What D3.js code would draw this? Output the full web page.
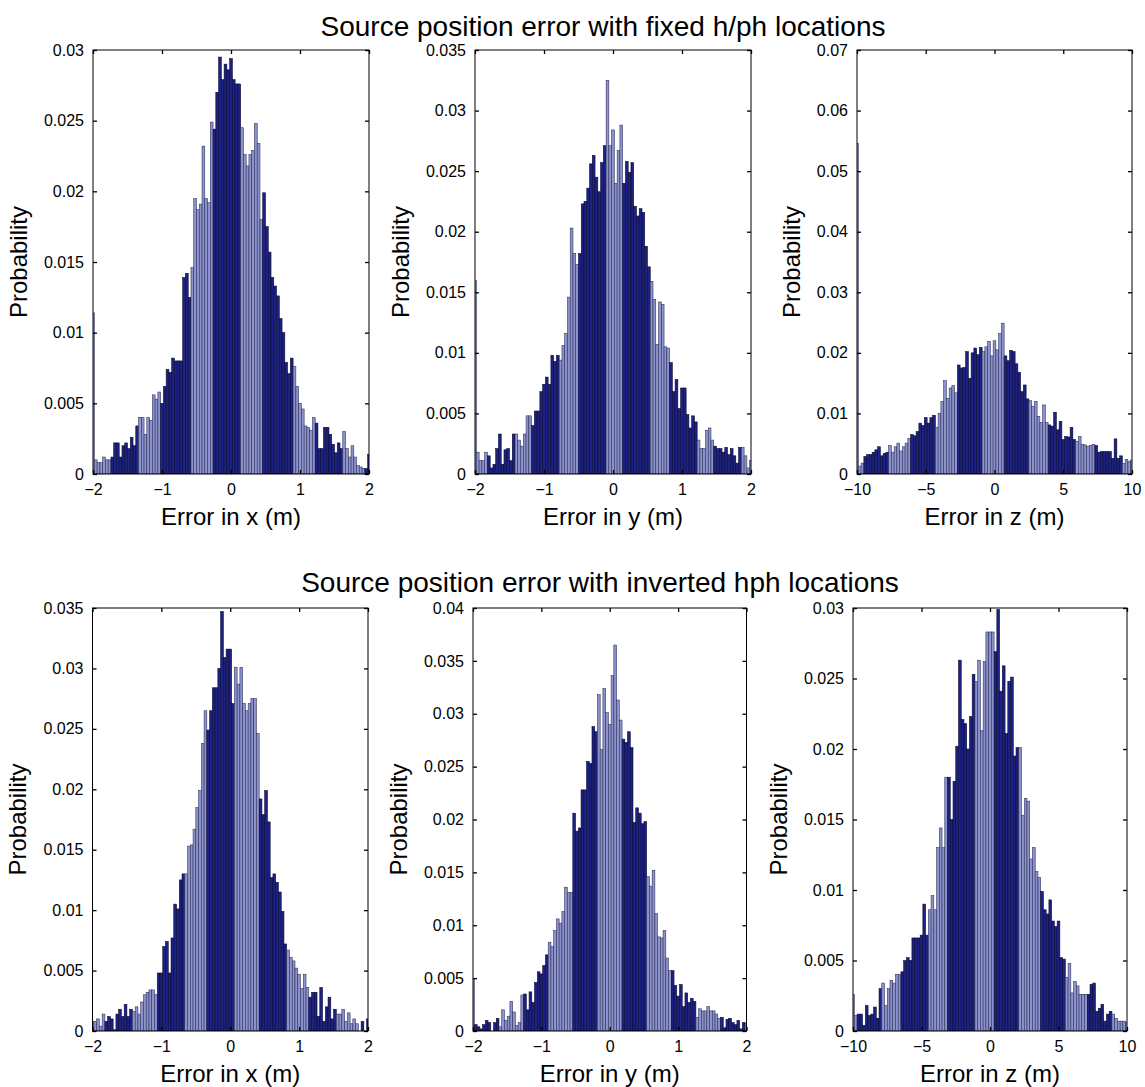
<!DOCTYPE html>
<html><head><meta charset="utf-8">
<script src="https://cdn.jsdelivr.net/npm/d3@7"></script>
<style>
html,body{margin:0;padding:0;background:#fff;}
text{font-family:"Liberation Sans",Arial,Helvetica,sans-serif;fill:#000;}
</style></head>
<body><svg id="chart" width="1145" height="1087"></svg>
<script>
// ---------- data (probability per bin, 101 bins centred on the x ticks grid) ----------
const titles = ["Source position error with fixed h/ph locations",
                "Source position error with inverted hph locations"];
const xLabels = ["Error in x (m)", "Error in y (m)", "Error in z (m)"];
const yLabel = "Probability";
const xTicksXY = [-2, -1, 0, 1, 2];
const xTicksZ = [-10, -5, 0, 5, 10];
const yTicksTL = [0, 0.005, 0.01, 0.015, 0.02, 0.025, 0.03];
const yTicksTM = [0, 0.005, 0.01, 0.015, 0.02, 0.025, 0.03, 0.035];
const yTicksTR = [0, 0.01, 0.02, 0.03, 0.04, 0.05, 0.06, 0.07];
const yTicksBL = [0, 0.005, 0.01, 0.015, 0.02, 0.025, 0.03, 0.035];
const yTicksBM = [0, 0.005, 0.01, 0.015, 0.02, 0.025, 0.03, 0.035, 0.04];
const yTicksBR = [0, 0.005, 0.01, 0.015, 0.02, 0.025, 0.03];

const xErrFixed = [0.0114,
 0.0010,0.0008,0.0008,0.0012,0.0010,0.0010,0.0012,0.0022,0.0022,0.0012,
 0.0020,0.0022,0.0018,0.0026,0.0020,0.0034,0.0040,0.0040,0.0028,0.0040,
 0.0038,0.0056,0.0053,0.0058,0.0050,0.0062,0.0074,0.0072,0.0082,0.0080,
 0.0080,0.0080,0.0139,0.0142,0.0125,0.0146,0.0195,0.0187,0.0191,0.0232,
 0.0195,0.0192,0.0249,0.0244,0.0270,0.0295,0.0279,0.0290,0.0286,0.0294,
 0.0279,0.0276,0.0276,0.0245,0.0226,0.0218,0.0226,0.0229,0.0248,0.0234,
 0.0180,0.0199,0.0175,0.0157,0.0139,0.0133,0.0126,0.0110,0.0100,0.0079,
 0.0071,0.0082,0.0076,0.0062,0.0050,0.0046,0.0034,0.0033,0.0031,0.0040,
 0.0036,0.0018,0.0018,0.0033,0.0033,0.0028,0.0021,0.0015,0.0022,0.0018,
 0.0030,0.0018,0.0012,0.0020,0.0012,0.0006,0.0005,0.0004,0.0004,0.0014];

const yErrFixed = [0.0160,
 0.0018,0.0011,0.0011,0.0018,0.0015,0.0005,0.0008,0.0021,0.0033,0.0008,
 0.0020,0.0021,0.0011,0.0033,0.0033,0.0028,0.0023,0.0033,0.0048,0.0048,
 0.0040,0.0052,0.0052,0.0068,0.0074,0.0080,0.0074,0.0098,0.0093,0.0098,
 0.0094,0.0106,0.0116,0.0146,0.0203,0.0182,0.0173,0.0182,0.0223,0.0225,
 0.0236,0.0256,0.0263,0.0245,0.0233,0.0257,0.0271,0.0325,0.0271,0.0284,
 0.0240,0.0267,0.0288,0.0240,0.0258,0.0249,0.0257,0.0221,0.0213,0.0219,
 0.0216,0.0188,0.0171,0.0159,0.0144,0.0107,0.0142,0.0140,0.0105,0.0104,
 0.0092,0.0068,0.0078,0.0054,0.0071,0.0071,0.0049,0.0038,0.0048,0.0043,
 0.0028,0.0021,0.0021,0.0036,0.0038,0.0028,0.0023,0.0021,0.0021,0.0018,
 0.0022,0.0016,0.0021,0.0015,0.0009,0.0022,0.0022,0.0015,0.0005,0.0011];

const zErrFixed = [0.0546,
 0.0013,0.0018,0.0029,0.0032,0.0032,0.0036,0.0040,0.0045,0.0030,0.0034,
 0.0036,0.0047,0.0036,0.0045,0.0051,0.0038,0.0045,0.0051,0.0059,0.0065,
 0.0063,0.0070,0.0084,0.0080,0.0093,0.0084,0.0093,0.0097,0.0077,0.0100,
 0.0120,0.0154,0.0125,0.0142,0.0146,0.0134,0.0180,0.0175,0.0176,0.0202,
 0.0158,0.0200,0.0208,0.0197,0.0209,0.0202,0.0210,0.0219,0.0195,0.0220,
 0.0205,0.0232,0.0249,0.0195,0.0187,0.0204,0.0202,0.0182,0.0168,0.0136,
 0.0147,0.0124,0.0121,0.0112,0.0120,0.0095,0.0085,0.0114,0.0085,0.0081,
 0.0079,0.0102,0.0073,0.0087,0.0057,0.0062,0.0061,0.0077,0.0057,0.0054,
 0.0062,0.0049,0.0048,0.0046,0.0047,0.0049,0.0047,0.0036,0.0037,0.0037,
 0.0037,0.0037,0.0026,0.0058,0.0026,0.0030,0.0017,0.0024,0.0021,0.0023];

const xErrInv = [0.0008,
 0.0008,0.0010,0.0004,0.0014,0.0008,0.0012,0.0010,0.0001,0.0014,0.0018,
 0.0012,0.0022,0.0012,0.0018,0.0016,0.0020,0.0014,0.0024,0.0030,0.0032,
 0.0034,0.0034,0.0030,0.0048,0.0048,0.0070,0.0074,0.0048,0.0077,0.0105,
 0.0101,0.0125,0.0130,0.0130,0.0153,0.0154,0.0167,0.0185,0.0199,0.0238,
 0.0265,0.0249,0.0265,0.0284,0.0284,0.0300,0.0347,0.0309,0.0316,0.0316,
 0.0271,0.0301,0.0287,0.0301,0.0271,0.0265,0.0271,0.0275,0.0275,0.0246,
 0.0192,0.0179,0.0199,0.0173,0.0127,0.0130,0.0123,0.0115,0.0099,0.0072,
 0.0067,0.0061,0.0058,0.0052,0.0047,0.0035,0.0047,0.0036,0.0028,0.0032,
 0.0032,0.0012,0.0036,0.0008,0.0020,0.0028,0.0010,0.0018,0.0014,0.0014,
 0.0018,0.0008,0.0015,0.0006,0.0010,0.0006,0.0000,0.0008,0.0000,0.0010];

const yErrInv = [0.0050,
 0.0006,0.0004,0.0002,0.0006,0.0010,0.0008,0.0000,0.0008,0.0012,0.0004,
 0.0020,0.0010,0.0014,0.0028,0.0018,0.0005,0.0008,0.0034,0.0035,0.0020,
 0.0037,0.0027,0.0046,0.0056,0.0054,0.0062,0.0072,0.0084,0.0080,0.0095,
 0.0106,0.0102,0.0113,0.0136,0.0131,0.0131,0.0206,0.0189,0.0192,0.0228,
 0.0228,0.0255,0.0253,0.0288,0.0283,0.0318,0.0266,0.0324,0.0301,0.0290,
 0.0336,0.0365,0.0313,0.0294,0.0276,0.0273,0.0283,0.0268,0.0197,0.0211,
 0.0206,0.0196,0.0198,0.0146,0.0137,0.0152,0.0111,0.0089,0.0088,0.0095,
 0.0069,0.0057,0.0057,0.0043,0.0033,0.0044,0.0023,0.0036,0.0027,0.0031,
 0.0028,0.0013,0.0021,0.0019,0.0019,0.0023,0.0019,0.0019,0.0016,0.0012,
 0.0013,0.0003,0.0011,0.0012,0.0008,0.0006,0.0010,0.0002,0.0008,0.0007];

const zErrInv = [0.0026,
 0.0011,0.0012,0.0012,0.0004,0.0018,0.0011,0.0012,0.0017,0.0009,0.0030,
 0.0034,0.0018,0.0030,0.0036,0.0034,0.0040,0.0040,0.0042,0.0050,0.0052,
 0.0050,0.0066,0.0066,0.0066,0.0068,0.0090,0.0068,0.0086,0.0096,0.0086,
 0.0130,0.0144,0.0130,0.0180,0.0180,0.0150,0.0177,0.0202,0.0263,0.0221,
 0.0218,0.0200,0.0223,0.0253,0.0248,0.0263,0.0213,0.0262,0.0283,0.0283,
 0.0283,0.0269,0.0299,0.0241,0.0259,0.0211,0.0248,0.0251,0.0195,0.0201,
 0.0201,0.0153,0.0165,0.0163,0.0122,0.0130,0.0113,0.0109,0.0099,0.0086,
 0.0083,0.0093,0.0078,0.0074,0.0078,0.0052,0.0051,0.0038,0.0048,0.0027,
 0.0035,0.0032,0.0026,0.0026,0.0026,0.0026,0.0033,0.0034,0.0014,0.0016,
 0.0019,0.0007,0.0012,0.0014,0.0012,0.0009,0.0007,0.0007,0.0007,0.0006];

// ---------- layout ----------
const panels = [
  {vals:xErrFixed, xd:[-2,2],   xt:xTicksXY, yd:[0,0.03],  yt:yTicksTL, lab:0, L:93,  R:369,  T:50,  B:474,  band:[18.5,17,8]},
  {vals:yErrFixed, xd:[-2,2],   xt:xTicksXY, yd:[0,0.035], yt:yTicksTM, lab:1, L:475, R:751,  T:50,  B:474,  band:[16.5,14.5,6.5]},
  {vals:zErrFixed, xd:[-10,10], xt:xTicksZ,  yd:[0,0.07],  yt:yTicksTR, lab:2, L:857, R:1132, T:50,  B:474,  band:[16.8,12,7.5]},
  {vals:xErrInv,   xd:[-2,2],   xt:xTicksXY, yd:[0,0.035], yt:yTicksBL, lab:0, L:92.5,R:368,  T:608, B:1031, band:[18.5,15,8.5]},
  {vals:yErrInv,   xd:[-2,2],   xt:xTicksXY, yd:[0,0.04],  yt:yTicksBM, lab:1, L:473, R:746.5,T:608, B:1031, band:[18,10,8.5]},
  {vals:zErrInv,   xd:[-10,10], xt:xTicksZ,  yd:[0,0.03],  yt:yTicksBR, lab:2, L:853, R:1127, T:608, B:1031, band:[16.8,10.5,7.5]}
];

const svg = d3.select("#chart");
const fmt = d3.format("~g");
const DARK = "#1d2282", LIGHT = "#8b92cc";

panels.forEach((p, k) => {
  const x = d3.scaleLinear().domain(p.xd).range([p.L, p.R]);
  const y = d3.scaleLinear().domain(p.yd).range([p.B, p.T]);
  const n = p.vals.length;
  const step = (p.xd[1] - p.xd[0]) / (n - 1);
  const bw = x(p.xd[0] + step) - x(p.xd[0]);
  const g = svg.append("g");
  const cid = "clip" + k;
  svg.append("clipPath").attr("id", cid).append("rect")
     .attr("x", p.L).attr("y", p.T).attr("width", p.R - p.L).attr("height", p.B - p.T);
  const [per, off, wid] = p.band;
  const isLight = i => { const ph = ((i - off) % per + per) % per; return ph < wid; };
  g.append("g").attr("clip-path", `url(#${cid})`)
   .selectAll("rect").data(p.vals).join("rect")
   .attr("x", (d, i) => x(p.xd[0] + i * step) - bw / 2)
   .attr("width", bw)
   .attr("y", d => y(d))
   .attr("height", d => y(0) - y(d))
   .attr("fill", (d, i) => isLight(i) ? LIGHT : DARK)
   .attr("stroke", (d, i) => isLight(i) ? "#2a2d55" : "#05062a")
   .attr("stroke-width", 0.55);

  // box
  g.append("rect").attr("x", p.L).attr("y", p.T).attr("width", p.R - p.L).attr("height", p.B - p.T)
   .attr("fill", "none").attr("stroke", "#000").attr("stroke-width", 1);

  // y axis (ticks inside, both sides)
  const yl = g.append("g").attr("transform", `translate(${p.L},0)`)
    .call(d3.axisLeft(y).tickValues(p.yt).tickFormat(fmt).tickSizeInner(-4).tickSizeOuter(0).tickPadding(9));
  const yr = g.append("g").attr("transform", `translate(${p.R},0)`)
    .call(d3.axisRight(y).tickValues(p.yt).tickFormat("").tickSizeInner(-4).tickSizeOuter(0));
  const xb = g.append("g").attr("transform", `translate(0,${p.B})`)
    .call(d3.axisBottom(x).tickValues(p.xt).tickFormat(fmt).tickSizeInner(-4).tickSizeOuter(0).tickPadding(10));
  const xtp = g.append("g").attr("transform", `translate(0,${p.T})`)
    .call(d3.axisTop(x).tickValues(p.xt).tickFormat("").tickSizeInner(-4).tickSizeOuter(0));
  [yl, yr, xb, xtp].forEach(a => {
    a.select(".domain").remove();
    a.selectAll(".tick line").attr("stroke", "#000").attr("stroke-width", 1.3);
    a.selectAll("text").attr("font-size", 16).attr("font-family", '"Liberation Sans",Arial,sans-serif').attr("fill", "#000");
  });

  // label widths to place ylabel like MATLAB
  let maxW = 0;
  yl.selectAll("text").each(function(){ maxW = Math.max(maxW, this.getComputedTextLength()); });

  g.append("text").attr("text-anchor", "middle").attr("font-size", 24)
   .attr("transform", `translate(${p.L - maxW - 26},${(p.T + p.B) / 2}) rotate(-90)`)
   .text(yLabel);
  g.append("text").attr("text-anchor", "middle").attr("font-size", 24)
   .attr("x", (p.L + p.R) / 2).attr("y", p.B + 51)
   .text(xLabels[p.lab]);
});

svg.append("text").attr("text-anchor", "middle").attr("font-size", 28)
   .attr("x", 603).attr("y", 36).text(titles[0]);
svg.append("text").attr("text-anchor", "middle").attr("font-size", 28)
   .attr("x", 600).attr("y", 592).text(titles[1]);
</script></body></html>
